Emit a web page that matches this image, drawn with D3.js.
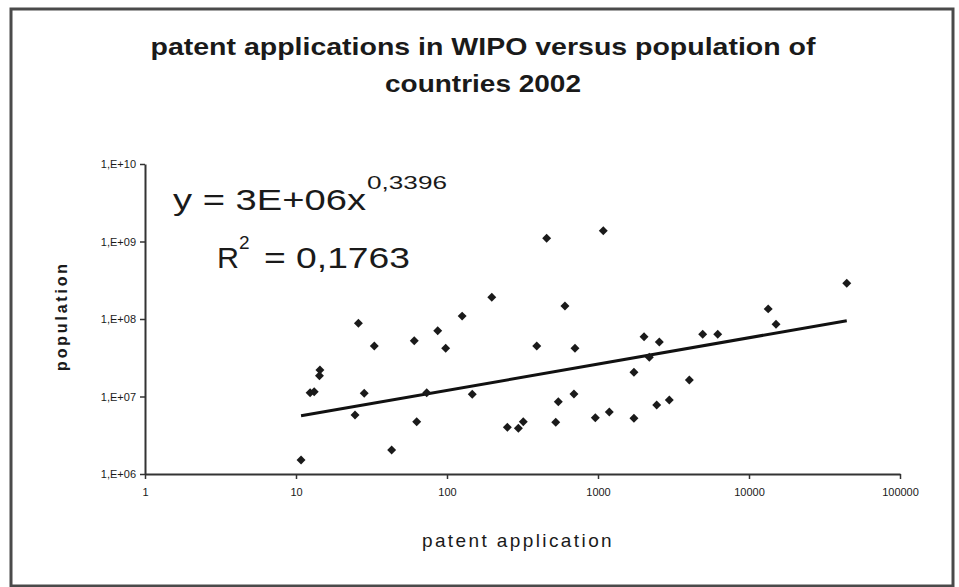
<!DOCTYPE html>
<html>
<head>
<meta charset="utf-8">
<script src="https://cdn.jsdelivr.net/npm/d3@7"></script>
<style>
body { margin: 0; background: #ffffff; }
text { font-family: "Liberation Sans", Arial, sans-serif; fill: #1a1a1a; }
</style>
</head>
<body>
<svg></svg>
<script>

// patent applications (x) and population (y), one entry per country
var patents = [457, 198, 126, 25.9, 33, 60.7, 86.8, 98, 604, 393, 704, 14.4, 14.3, 12.4, 13.2,
    28.3, 24.6, 73.4, 147, 63, 43, 10.8, 546, 693, 251, 297, 320, 525, 960, 1084,
    44400, 13400, 15100, 2018, 2547, 4935, 6207, 2187, 1730, 4026, 2448, 2966, 1188, 1730];
var population = [1.10e9, 1.91e8, 1.09e8, 8.8e7, 4.48e7, 5.25e7, 7.06e7, 4.19e7, 1.47e8, 4.48e7, 4.19e7, 2.20e7, 1.85e7, 1.12e7, 1.15e7,
    1.10e7, 5.77e6, 1.12e7, 1.07e7, 4.73e6, 2.04e6, 1.52e6, 8.57e6, 1.08e7, 4.0e6, 3.89e6, 4.73e6, 4.65e6, 5.31e6, 1.38e9,
    2.89e8, 1.35e8, 8.55e7, 5.91e7, 5.05e7, 6.35e7, 6.35e7, 3.21e7, 2.05e7, 1.63e7, 7.77e6, 9.0e6, 6.31e6, 5.23e6];

var xTicks = [1, 10, 100, 1000, 10000, 100000];
var xTickLabels = ["1", "10", "100", "1000", "10000", "100000"];
var yTicks = [1e6, 1e7, 1e8, 1e9, 1e10];
var yTickLabels = ["1,E+06", "1,E+07", "1,E+08", "1,E+09", "1,E+10"];

// power trendline y = a * x^b
var trendCoef = 2.51e6;
var trendExp = 0.3396;
var equationText = ["y = 3E+06x", "0,3396"];
var r2Text = ["R", "2", "= 0,1763"];

var titleLines = ["patent applications in WIPO versus population of", "countries 2002"];

var screen = {width: 959, height: 587};

var makeGraph = function()
{
    var svg = d3.select("svg")
        .attr("width", screen.width)
        .attr("height", screen.height);

    // chart frame
    svg.append("rect")
        .attr("x", 11).attr("y", 9)
        .attr("width", 942).attr("height", 577)
        .attr("fill", "white")
        .attr("stroke", "#4a4a4a")
        .attr("stroke-width", 3);

    var xScale = d3.scaleLog().domain([1, 100000]).range([145, 900]);
    var yScale = d3.scaleLog().domain([1e6, 1e10]).range([474, 164]);

    drawTitle(svg);
    drawAxes(svg, xScale, yScale);
    drawTrend(svg, xScale, yScale);
    drawPoints(svg, xScale, yScale);
    drawEquation(svg);
}

var drawTitle = function(svg)
{
    svg.append("g").attr("id", "title")
        .selectAll("text")
        .data(titleLines)
        .enter()
        .append("text")
        .attr("x", 483)
        .attr("y", function(d, i) { return 55 + i * 37; })
        .attr("text-anchor", "middle")
        .attr("font-size", 24)
        .attr("font-weight", "bold")
        .attr("textLength", function(d, i) { return i == 0 ? 665 : 196; })
        .attr("lengthAdjust", "spacingAndGlyphs")
        .text(function(d) { return d; });
}

var drawAxes = function(svg, xScale, yScale)
{
    var xAxis = d3.axisBottom(xScale)
        .tickValues(xTicks)
        .tickFormat(function(d, i) { return xTickLabels[i]; })
        .tickSizeInner(5)
        .tickSizeOuter(0);

    var yAxis = d3.axisLeft(yScale)
        .tickValues(yTicks)
        .tickFormat(function(d, i) { return yTickLabels[i]; })
        .tickSizeInner(5)
        .tickSizeOuter(0);

    var gx = svg.append("g")
        .attr("id", "xAxis")
        .attr("transform", "translate(0,474)")
        .call(xAxis);

    var gy = svg.append("g")
        .attr("id", "yAxis")
        .attr("transform", "translate(145,0)")
        .call(yAxis);

    [gx, gy].forEach(function(g) {
        g.select(".domain").attr("stroke", "#333").attr("stroke-width", 2);
        g.selectAll(".tick line").attr("stroke", "#333").attr("stroke-width", 1.5);
        g.selectAll(".tick text")
            .attr("font-family", "Liberation Sans, Arial, sans-serif")
            .attr("font-size", 11)
            .attr("fill", "#222");
    });
    gx.selectAll(".tick text").attr("dy", "1.3em");
    gy.selectAll(".tick text").attr("x", -9);

    svg.append("text")
        .attr("x", 518)
        .attr("y", 547)
        .attr("text-anchor", "middle")
        .attr("font-size", 19)
        .attr("letter-spacing", 2.4)
        .text("patent application");

    svg.append("text")
        .attr("transform", "translate(67,316) rotate(-90)")
        .attr("text-anchor", "middle")
        .attr("font-size", 16)
        .attr("font-weight", "bold")
        .attr("letter-spacing", 2.8)
        .text("population");
}

var drawTrend = function(svg, xScale, yScale)
{
    var ends = d3.extent(patents);
    var line = d3.line()
        .x(function(d) { return xScale(d); })
        .y(function(d) { return yScale(trendCoef * Math.pow(d, trendExp)); });

    svg.append("path")
        .datum(ends)
        .attr("d", line)
        .attr("fill", "none")
        .attr("stroke", "#111")
        .attr("stroke-width", 3);
}

var drawPoints = function(svg, xScale, yScale)
{
    // Excel style diamond: a square turned 45 degrees
    var marker = d3.symbol().type(d3.symbolSquare).size(40);

    svg.append("g").attr("id", "points")
        .selectAll("path")
        .data(patents)
        .enter()
        .append("path")
        .attr("d", marker)
        .attr("transform", function(d, i) {
            return "translate(" + xScale(d) + "," + yScale(population[i]) + ") rotate(45)";
        })
        .attr("fill", "#1a1a1a");
}

var drawEquation = function(svg)
{
    var eq = svg.append("g").attr("id", "equation").attr("fill", "#2a2a2a");

    eq.append("text")
        .attr("x", 173).attr("y", 210)
        .attr("font-size", 30)
        .attr("textLength", 193)
        .attr("lengthAdjust", "spacingAndGlyphs")
        .text(equationText[0]);
    eq.append("text")
        .attr("x", 367).attr("y", 189)
        .attr("font-size", 19)
        .attr("textLength", 80)
        .attr("lengthAdjust", "spacingAndGlyphs")
        .text(equationText[1]);

    eq.append("text")
        .attr("x", 217).attr("y", 268)
        .attr("font-size", 30)
        .attr("textLength", 22)
        .attr("lengthAdjust", "spacingAndGlyphs")
        .text(r2Text[0]);
    eq.append("text")
        .attr("x", 239).attr("y", 249)
        .attr("font-size", 19)
        .text(r2Text[1]);
    eq.append("text")
        .attr("x", 264).attr("y", 268)
        .attr("font-size", 30)
        .attr("textLength", 146)
        .attr("lengthAdjust", "spacingAndGlyphs")
        .text(r2Text[2]);
}

makeGraph();
</script>
</body>
</html>
